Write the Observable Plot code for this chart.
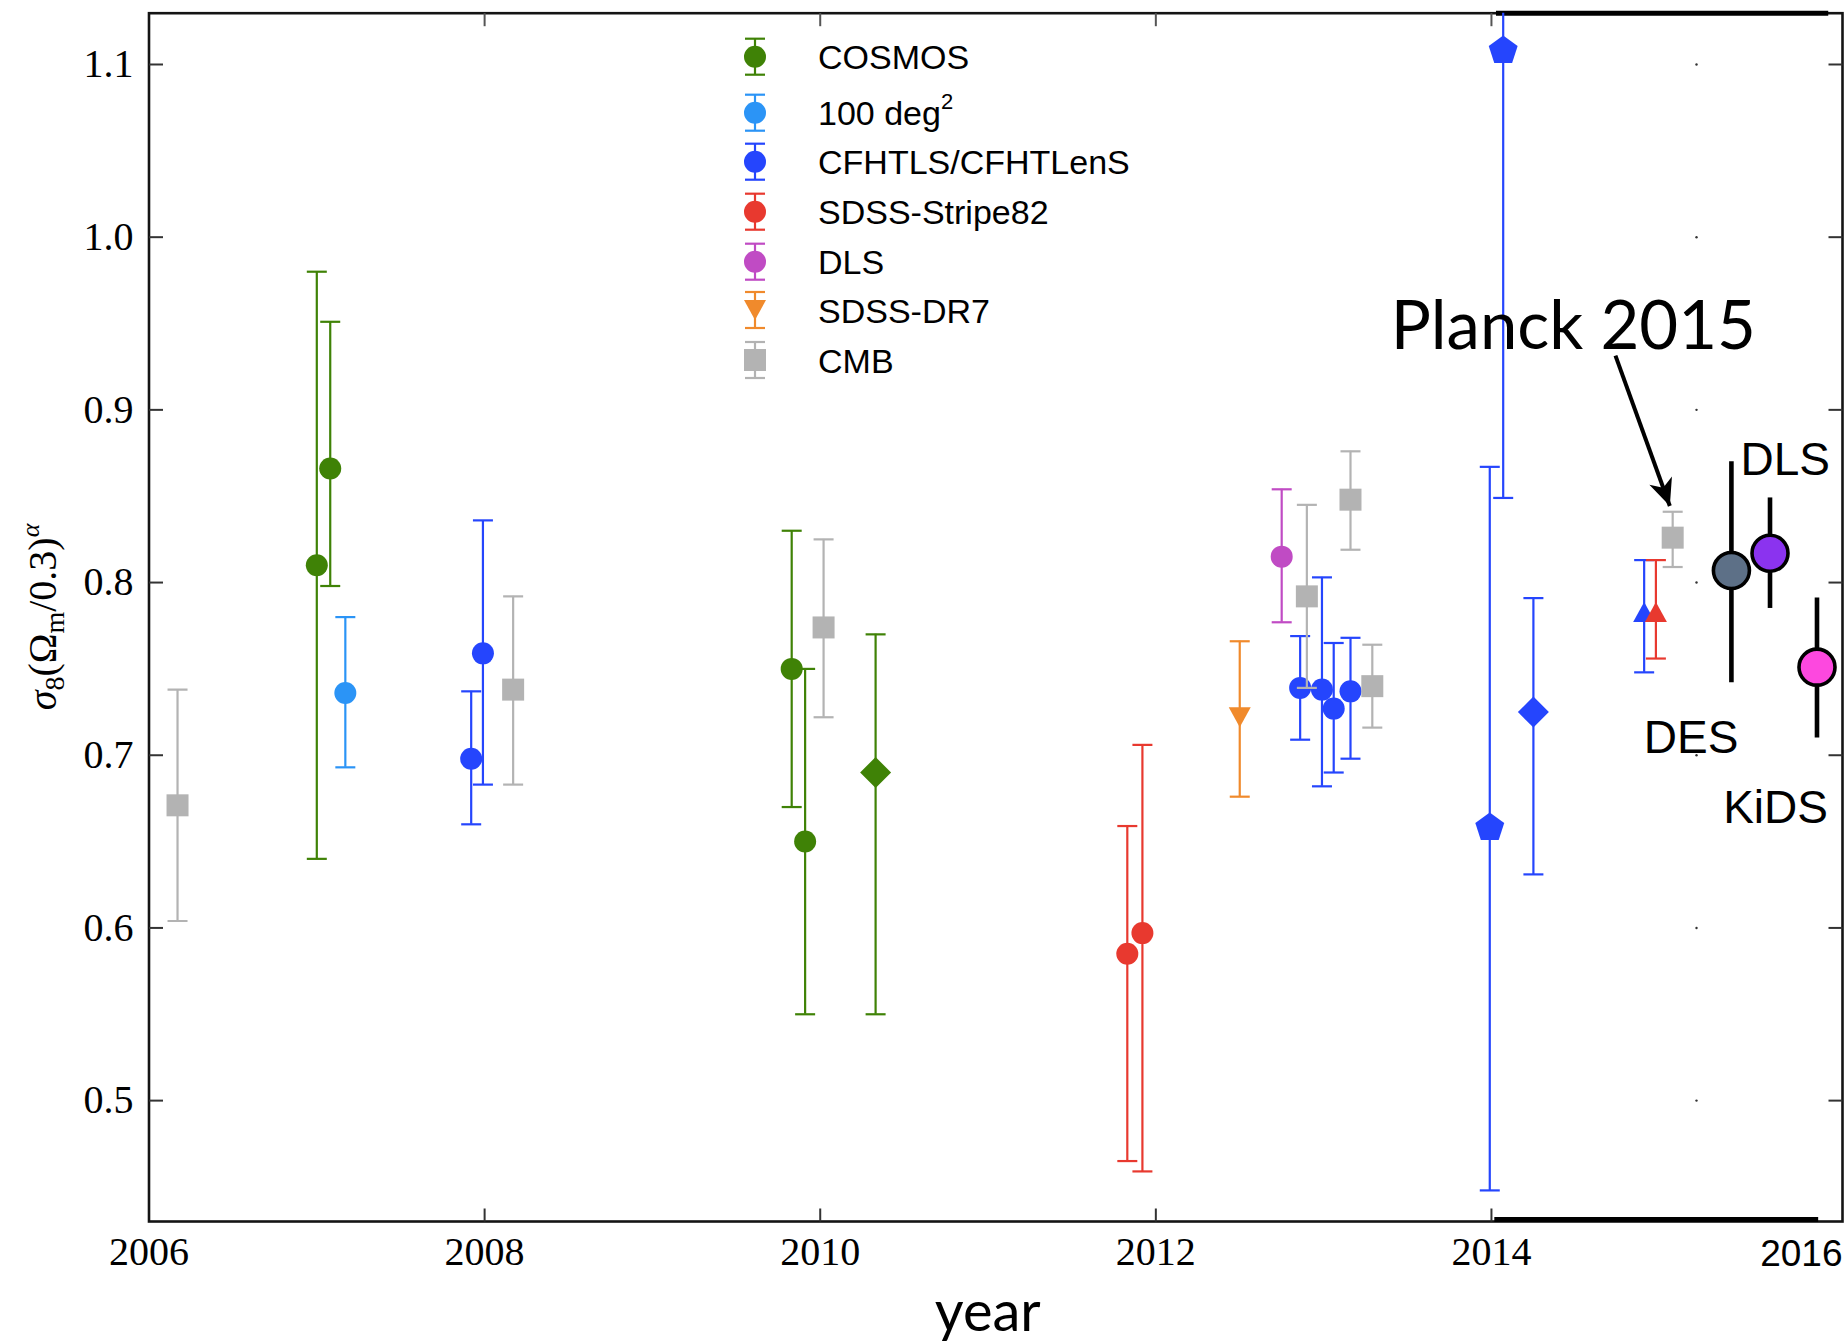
<!DOCTYPE html>
<html>
<head>
<meta charset="utf-8">
<script src="https://cdn.jsdelivr.net/npm/d3@7"></script>
<script src="https://cdn.jsdelivr.net/npm/@observablehq/plot@0.6"></script>
<style>
html, body { margin: 0; padding: 0; background: #fff; }
#chart { width: 1848px; height: 1343px; }
</style>
</head>
<body>
<div id="chart"></div>
<script>
// ---------- data ----------
const surveyOrder = ["COSMOS", "100 deg2", "CFHTLS", "SDSS-Stripe82", "DLS", "SDSS-DR7", "CMB"];
const legendLabels = ["COSMOS", "100 deg", "CFHTLS/CFHTLenS", "SDSS-Stripe82", "DLS", "SDSS-DR7", "CMB"];
const surveyColors = ["#3f8206", "#2b94f6", "#2545fd", "#e8392f", "#c04bc4", "#f08a2c", "#b3b3b3"];
const legendMarkers = ["o", "o", "o", "o", "o", "v", "s"];

const pointSurvey = ["CMB", "COSMOS", "COSMOS", "100 deg2", "CFHTLS", "CFHTLS", "CMB",
  "COSMOS", "COSMOS", "CMB", "COSMOS", "SDSS-Stripe82", "SDSS-Stripe82", "SDSS-DR7", "DLS",
  "CMB", "CFHTLS", "CFHTLS", "CFHTLS", "CFHTLS", "CMB", "CMB",
  "CFHTLS", "CFHTLS", "CFHTLS", "CFHTLS", "SDSS-Stripe82", "CMB"];
const pointYear = [2006.17, 2007.00, 2007.08, 2007.17, 2007.92, 2007.99, 2008.17,
  2009.83, 2009.91, 2010.02, 2010.33, 2011.83, 2011.92, 2012.50, 2012.75,
  2012.90, 2012.86, 2012.99, 2013.06, 2013.16, 2013.16, 2013.29,
  2013.99, 2014.07, 2014.25, 2014.91, 2014.98, 2015.08];
const pointSigma = [0.671, 0.810, 0.866, 0.736, 0.698, 0.759, 0.738,
  0.750, 0.650, 0.774, 0.690, 0.585, 0.597, 0.722, 0.815,
  0.792, 0.739, 0.738, 0.727, 0.737, 0.848, 0.740,
  0.658, 1.108, 0.725, 0.783, 0.783, 0.826];
const pointLo = [0.604, 0.640, 0.798, 0.693, 0.660, 0.683, 0.683,
  0.670, 0.550, 0.722, 0.550, 0.465, 0.459, 0.676, 0.777,
  0.739, 0.709, 0.682, 0.690, 0.698, 0.819, 0.716,
  0.448, 0.849, 0.631, 0.748, 0.756, 0.809];
const pointHi = [0.738, 0.980, 0.951, 0.780, 0.737, 0.836, 0.792,
  0.830, 0.750, 0.825, 0.770, 0.659, 0.706, 0.766, 0.854,
  0.845, 0.769, 0.803, 0.765, 0.768, 0.876, 0.764,
  0.867, 1.367, 0.791, 0.813, 0.813, 0.841];
const pointMarker = ["s", "o", "o", "o", "o", "o", "s",
  "o", "o", "s", "D", "o", "o", "v", "o",
  "s", "o", "o", "o", "o", "s", "s",
  "p", "p", "D", "^", "^", "s"];

// newer results pasted on the right
const newSurvey = ["DES", "DLS", "KiDS"];
const newYear = [2015.43, 2015.66, 2015.94];
const newSigma = [0.807, 0.817, 0.751];
const newLo = [0.742, 0.785, 0.710];
const newHi = [0.870, 0.849, 0.791];
const newColors = ["#5d7087", "#8b33ef", "#fd48df"];

// axes
const xTicks = [2006, 2008, 2010, 2012, 2014];
const xInnerTicks = [2008, 2010, 2012, 2014];
const yTicks = [0.5, 0.6, 0.7, 0.8, 0.9, 1.0, 1.1];
const xDomain = [2006, 2016.092];
const yDomain = [0.43, 1.1297];

// annotations
const annText = ["Planck 2015", "DLS", "DES", "KiDS"];
const annYear = [2013.40, 2015.484, 2014.908, 2015.381];
const annValue = [0.9351, 0.862, 0.7013, 0.6605];
const arrowFrom = [2014.739, 0.9314];
const arrowTo = [2015.063, 0.8443];

// ---------- build tables ----------
const colorOf = Object.fromEntries(surveyOrder.map((s, i) => [s, surveyColors[i]]));
const points = pointSurvey.map((s, i) => ({
  survey: s, year: pointYear[i], sigma: pointSigma[i], lo: pointLo[i], hi: pointHi[i], marker: pointMarker[i]
}));
const newPoints = newSurvey.map((s, i) => ({
  survey: s, year: newYear[i], sigma: newSigma[i], lo: newLo[i], hi: newHi[i], color: newColors[i]
}));
const annotations = annText.map((t, i) => ({text: t, year: annYear[i], value: annValue[i]}));

// ---------- symbols (pixel shapes) ----------
const sym = {
  o: {draw(c) { c.moveTo(11, 0); c.arc(0, 0, 11, 0, 2 * Math.PI); c.closePath(); }},
  s: {draw(c) { c.moveTo(-11, -11); c.lineTo(11, -11); c.lineTo(11, 11); c.lineTo(-11, 11); c.closePath(); }},
  D: {draw(c) { c.moveTo(0, -15.5); c.lineTo(15.5, 0); c.lineTo(0, 15.5); c.lineTo(-15.5, 0); c.closePath(); }},
  p: {draw(c) {
    const R = 15.2;
    for (let k = 0; k < 5; k++) {
      const a = -Math.PI / 2 + k * 2 * Math.PI / 5;
      const px = R * Math.cos(a), py = R * Math.sin(a);
      if (k === 0) c.moveTo(px, py); else c.lineTo(px, py);
    }
    c.closePath();
  }},
  v: {draw(c) { c.moveTo(-11, -10); c.lineTo(11, -10); c.lineTo(0, 10); c.closePath(); }},
  "^": {draw(c) { c.moveTo(-11, 10); c.lineTo(11, 10); c.lineTo(0, -10); c.closePath(); }}
};
const capSym = {draw(c) { c.moveTo(-10, 0); c.lineTo(10, 0); }};
const tickUp = {draw(c) { c.moveTo(0, 0); c.lineTo(0, -13); }};
const tickDown = {draw(c) { c.moveTo(0, 0); c.lineTo(0, 13); }};
const tickRight = {draw(c) { c.moveTo(0, 0); c.lineTo(14, 0); }};
const tickLeft = {draw(c) { c.moveTo(0, 0); c.lineTo(-14, 0); }};

// layout
const W = 1848, H = 1343;
const mL = 148.5, mR = 6, mT = 12.7, mB = 122;

// arrow head direction (pixels)
const sx = d3.scaleLinear(xDomain, [mL, W - mR]);
const sy = d3.scaleLinear(yDomain, [H - mB, mT]);
const adx = sx(arrowTo[0]) - sx(arrowFrom[0]);
const ady = sy(arrowTo[1]) - sy(arrowFrom[1]);
const alen = Math.hypot(adx, ady);
const ux = adx / alen, uy = ady / alen;
const headSym = {draw(c) {
  const L = 27, Wd = 12;
  c.moveTo(0, 0);
  c.lineTo(-L * ux - Wd * uy, -L * uy + Wd * ux);
  c.lineTo(-0.72 * L * ux, -0.72 * L * uy);
  c.lineTo(-L * ux + Wd * uy, -L * uy - Wd * ux);
  c.closePath();
}};

// ---------- marks ----------
const marks = [];
marks.push(Plot.frame({stroke: "#141414", strokeWidth: 2.6}));
// thicker pasted border segments
marks.push(Plot.ruleY([yDomain[1]], {x1: 2014.03, x2: 2016.01, stroke: "#000", strokeWidth: 5}));
marks.push(Plot.ruleY([yDomain[0]], {x1: 2014.02, x2: 2015.95, stroke: "#000", strokeWidth: 5, dy: -2}));
// inward ticks
marks.push(Plot.dot(xInnerTicks, {x: d => d, frameAnchor: "bottom", symbol: tickUp, stroke: "#333", strokeWidth: 2, fill: "none"}));
marks.push(Plot.dot(xInnerTicks, {x: d => d, frameAnchor: "top", symbol: tickDown, stroke: "#555", strokeWidth: 2, fill: "none"}));
marks.push(Plot.dot(yTicks, {y: d => d, frameAnchor: "left", symbol: tickRight, stroke: "#333", strokeWidth: 2, fill: "none"}));
marks.push(Plot.dot(yTicks, {y: d => d, frameAnchor: "right", symbol: tickLeft, stroke: "#333", strokeWidth: 2, fill: "none"}));
// remnants of the old right spine
marks.push(Plot.dot(yTicks, {x: () => 2015.222, y: d => d, r: 1.2, fill: "#333"}));
// axes labels
marks.push(Plot.axisX(xTicks, {tickSize: 0, tickPadding: 15, fontSize: 40, fontFamily: "Liberation Serif", tickFormat: d3.format("d"), label: null, fill: "#000"}));
marks.push(Plot.axisY(yTicks, {tickSize: 0, tickPadding: 15.5, fontSize: 40, fontFamily: "Liberation Serif", tickFormat: d3.format(".1f"), label: null, fill: "#000"}));
marks.push(Plot.text(["2016"], {text: d => d, frameAnchor: "bottom-right", textAnchor: "end", lineAnchor: "bottom", dy: 44, fontSize: 37, fontFamily: "Liberation Sans", fill: "#000"}));
marks.push(Plot.text(["year"], {text: d => d, frameAnchor: "bottom", lineAnchor: "bottom", dy: 109, dx: -8, fontSize: 56, fontFamily: "Lato", fill: "#000"}));

// data series
for (const s of surveyOrder) {
  const rows = points.filter(d => d.survey === s);
  const col = colorOf[s];
  marks.push(Plot.ruleX(rows, {x: "year", y1: "lo", y2: "hi", stroke: col, strokeWidth: 2.2, clip: true}));
  const caps = rows.flatMap(d => [{year: d.year, v: d.lo}, {year: d.year, v: d.hi}]);
  marks.push(Plot.dot(caps, {x: "year", y: "v", symbol: capSym, stroke: col, strokeWidth: 2.2, fill: "none", clip: true}));
  for (const m of Object.keys(sym)) {
    const r = rows.filter(d => d.marker === m);
    if (r.length) marks.push(Plot.dot(r, {x: "year", y: "sigma", symbol: sym[m], fill: col, stroke: "none"}));
  }
}

// new results
marks.push(Plot.ruleX(newPoints, {x: "year", y1: "lo", y2: "hi", stroke: "#000", strokeWidth: 4.6}));
marks.push(Plot.dot(newPoints, {x: "year", y: "sigma", r: 18, fill: "color", stroke: "#000", strokeWidth: 3.6}));

// annotations
marks.push(Plot.text(annotations.slice(0, 1), {x: "year", y: "value", text: "text", textAnchor: "start", lineAnchor: "bottom", fontSize: 67, fontFamily: "Lato", fill: "#000"}));
marks.push(Plot.text(annotations.slice(1), {x: "year", y: "value", text: "text", textAnchor: "start", lineAnchor: "bottom", fontSize: 46, fontFamily: "Liberation Sans", fill: "#000"}));
marks.push(Plot.link([{x1: arrowFrom[0], y1: arrowFrom[1], x2: arrowTo[0], y2: arrowTo[1]}], {x1: "x1", y1: "y1", x2: "x2", y2: "y2", stroke: "#000", strokeWidth: 4}));
marks.push(Plot.dot([{x: arrowTo[0], y: arrowTo[1]}], {x: "x", y: "y", symbol: headSym, fill: "#000", stroke: "none"}));

const plot = Plot.plot({
  width: W, height: H,
  marginLeft: mL, marginRight: mR, marginTop: mT, marginBottom: mB,
  x: {domain: xDomain},
  y: {domain: yDomain},
  color: {type: "identity"},
  style: {fontFamily: "Liberation Serif", background: "#fff", color: "#000", overflow: "visible"},
  marks
});

// ---------- legend ----------
const svg = d3.select(plot);
const legX = 755, textX = 818;
const legY = [56.7, 112.7, 161.7, 211.7, 261.7, 310, 360];
const lg = svg.append("g").attr("class", "legend").attr("text-anchor", "start");
surveyOrder.forEach((s, i) => {
  const cy = legY[i], col = surveyColors[i];
  const g = lg.append("g");
  g.append("line").attr("x1", legX).attr("x2", legX).attr("y1", cy - 18).attr("y2", cy + 18)
    .attr("stroke", col).attr("stroke-width", 2.2);
  [cy - 18, cy + 18].forEach(yy => g.append("line").attr("x1", legX - 10).attr("x2", legX + 10)
    .attr("y1", yy).attr("y2", yy).attr("stroke", col).attr("stroke-width", 2.2));
  const p = d3.path();
  sym[legendMarkers[i]].draw(p);
  g.append("path").attr("d", p.toString()).attr("transform", `translate(${legX},${cy})`).attr("fill", col);
  const t = g.append("text").attr("x", textX).attr("y", cy + 12.5).attr("text-anchor", "start")
    .attr("font-family", "Liberation Sans").attr("font-size", 34).attr("fill", "#000");
  t.append("tspan").text(legendLabels[i]);
  if (s === "100 deg2") t.append("tspan").attr("dy", -16).attr("font-size", 22).text("2");
});

// ---------- y label ----------
const yl = svg.append("text").attr("transform", "translate(56,617) rotate(-90)")
  .attr("text-anchor", "middle").attr("font-family", "Liberation Serif").attr("font-size", 40).attr("fill", "#000");
yl.append("tspan").attr("font-style", "italic").text("σ");
yl.append("tspan").attr("font-size", 28).attr("dy", 8).text("8");
yl.append("tspan").attr("dy", -8).text("(Ω");
yl.append("tspan").attr("font-size", 28).attr("dy", 8).text("m");
yl.append("tspan").attr("dy", -8).text("/0.3)");
yl.append("tspan").attr("font-size", 26).attr("dy", -17).attr("font-style", "italic").text("α");

document.getElementById("chart").appendChild(plot);
</script>
</body>
</html>
